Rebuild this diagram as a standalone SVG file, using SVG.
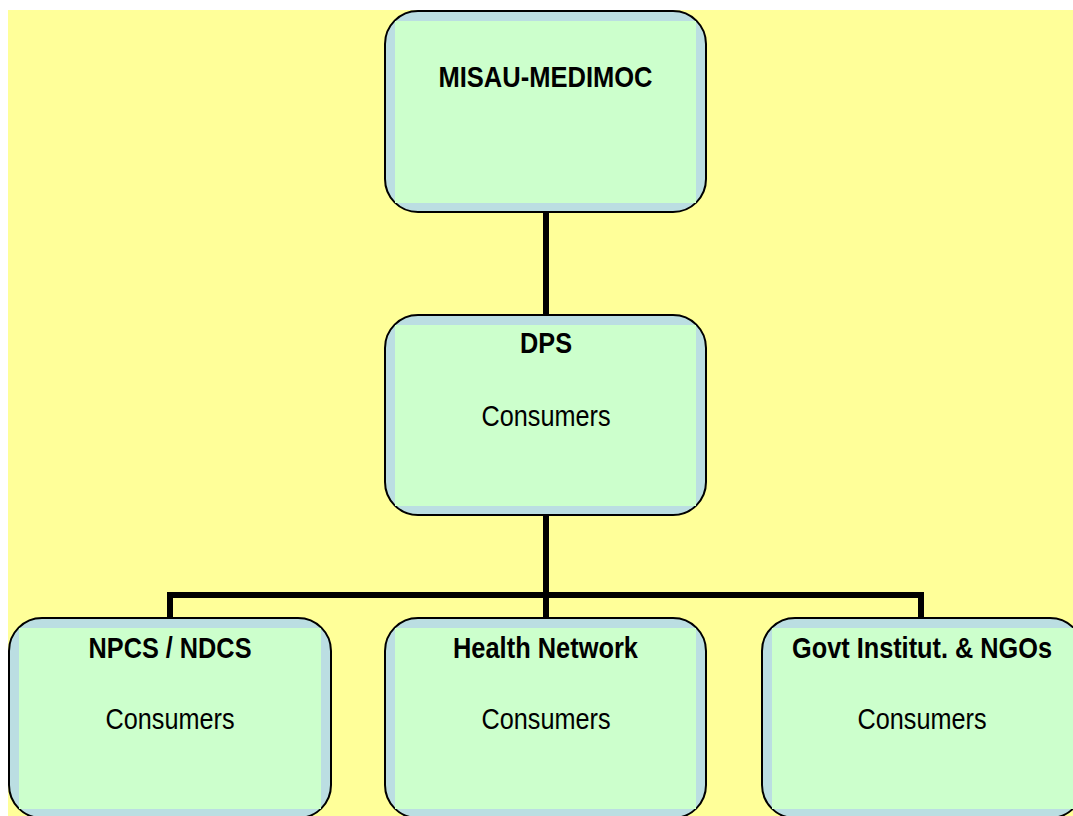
<svg xmlns="http://www.w3.org/2000/svg" width="1073" height="816" viewBox="0 0 1073 816">
  <defs>
    <style>
      .frame { fill: #bbdee2; stroke: #000; stroke-width: 2; }
      .face { fill: #ccffcc; }
      .link { fill: none; stroke: #000; stroke-width: 6; stroke-linejoin: miter; stroke-linecap: butt; }
      .title { font-family: "Liberation Sans", Arial, sans-serif; font-weight: bold; font-size: 30px; fill: #000; text-anchor: middle; }
      .sub { font-family: "Liberation Sans", Arial, sans-serif; font-size: 30px; fill: #000; text-anchor: middle; }
    </style>
  </defs>

  <rect x="0" y="0" width="1073" height="816" fill="#ffffff"/>
  <rect x="8" y="10" width="1065" height="806" fill="#ffff99"/>

  <!-- connectors -->
  <g id="connectors">
    <line class="link" x1="546" y1="212" x2="546" y2="315"/>
    <line class="link" x1="546" y1="515" x2="546" y2="618"/>
    <polyline class="link" points="170,618 170,595 921,595 921,618"/>
  </g>

  <!-- top level -->
  <g id="node-misau">
    <rect class="frame" x="385" y="11" width="321" height="201" rx="33"/>
    <rect class="face" x="395" y="21" width="301" height="182"/>
    <text class="title" x="545.5" y="87" textLength="214" lengthAdjust="spacingAndGlyphs">MISAU-MEDIMOC</text>
  </g>

  <g id="node-dps">
    <rect class="frame" x="385" y="315" width="321" height="200" rx="33"/>
    <rect class="face" x="395" y="325" width="301" height="181"/>
    <text class="title" x="546" y="353" textLength="52" lengthAdjust="spacingAndGlyphs">DPS</text>
    <text class="sub" x="546" y="426" textLength="129" lengthAdjust="spacingAndGlyphs">Consumers</text>
  </g>

  <g id="node-npcs">
    <rect class="frame" x="9" y="618" width="322" height="200" rx="33"/>
    <rect class="face" x="19" y="628" width="302" height="181"/>
    <text class="title" x="170" y="658" textLength="163" lengthAdjust="spacingAndGlyphs">NPCS / NDCS</text>
    <text class="sub" x="170" y="729" textLength="129" lengthAdjust="spacingAndGlyphs">Consumers</text>
  </g>

  <g id="node-health">
    <rect class="frame" x="385" y="618" width="321" height="200" rx="33"/>
    <rect class="face" x="395" y="628" width="301" height="181"/>
    <text class="title" x="545.5" y="658" textLength="185" lengthAdjust="spacingAndGlyphs">Health Network</text>
    <text class="sub" x="546" y="729" textLength="129" lengthAdjust="spacingAndGlyphs">Consumers</text>
  </g>

  <g id="node-govt">
    <rect class="frame" x="762" y="618" width="321" height="200" rx="33"/>
    <rect class="face" x="772" y="628" width="301" height="181"/>
    <text class="title" x="922" y="658" textLength="260" lengthAdjust="spacingAndGlyphs">Govt Institut. &amp; NGOs</text>
    <text class="sub" x="922" y="729" textLength="129" lengthAdjust="spacingAndGlyphs">Consumers</text>
  </g>
</svg>
